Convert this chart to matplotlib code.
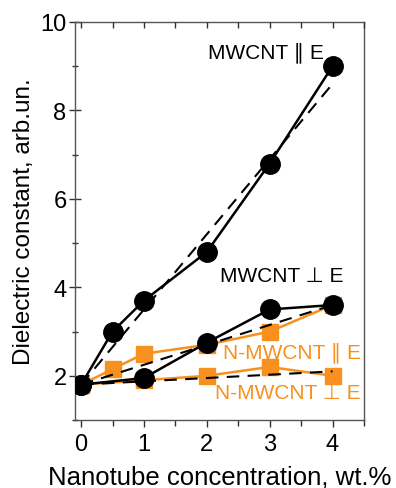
import matplotlib
matplotlib.use("Agg")
import matplotlib.pyplot as plt
from matplotlib.ticker import MultipleLocator

plt.rcParams['font.family'] = ['Liberation Sans', 'DejaVu Sans']

# Data
x_par = [0, 0.5, 1, 2, 3, 4]
mw_par = [1.8, 3.0, 3.7, 4.8, 6.8, 9.0]
mw_par_fit_x = [0, 4]
mw_par_fit = [1.8, 8.6]

x_perp = [0, 1, 2, 3, 4]
mw_perp = [1.8, 1.95, 2.75, 3.5, 3.6]
mw_perp_fit_x = [0, 4]
mw_perp_fit = [1.8, 3.6]

x_npar = [0, 0.5, 1, 2, 3, 4]
nmw_par = [1.8, 2.15, 2.5, 2.7, 3.0, 3.6]

x_nperp = [0, 1, 2, 3, 4]
nmw_perp = [1.8, 1.9, 2.0, 2.2, 2.0]
nmw_perp_fit_x = [0, 4]
nmw_perp_fit = [1.8, 2.1]

orange = '#F7901E'

fig = plt.figure(figsize=(3.96, 4.89), dpi=100)
ax = fig.add_axes([0.189, 0.139, 0.730, 0.814])

# orange series (drawn under black)
ax.plot(x_npar, nmw_par, '-', color=orange, lw=1.8, marker='s', ms=11.5, zorder=3)
ax.plot(x_nperp, nmw_perp, '-', color=orange, lw=1.8, marker='s', ms=11.5, zorder=3)

# black series
ax.plot(x_par, mw_par, '-', color='black', lw=1.8, marker='o', ms=14, zorder=4)
ax.plot(x_perp, mw_perp, '-', color='black', lw=1.8, marker='o', ms=14, zorder=4)

# dashed fits
ax.plot(mw_par_fit_x, mw_par_fit, '--', color='black', lw=1.5, dashes=(6, 4), zorder=5)
ax.plot(mw_perp_fit_x, mw_perp_fit, '--', color='black', lw=1.5, dashes=(6, 4), zorder=5)
ax.plot(nmw_perp_fit_x, nmw_perp_fit, '--', color='black', lw=1.5, dashes=(6, 4), zorder=5)

ax.set_xlim(-0.1, 4.5)
ax.set_ylim(1, 10)
ax.xaxis.set_major_locator(MultipleLocator(1))
ax.xaxis.set_minor_locator(MultipleLocator(0.5))
ax.yaxis.set_major_locator(MultipleLocator(2))
ax.yaxis.set_minor_locator(MultipleLocator(1))

for s in ax.spines.values():
    s.set_color('#555555')
    s.set_linewidth(1.0)

ax.tick_params(axis='x', which='both', direction='out', top=False, labelsize=17,
               color='#333333', width=1.0, pad=4)
ax.tick_params(axis='x', which='major', length=5)
ax.tick_params(axis='x', which='minor', length=4)
ax.tick_params(axis='y', which='both', direction='inout', right=False, labelsize=17,
               color='#333333', width=1.0, pad=2)
ax.tick_params(axis='y', which='major', length=8)
ax.tick_params(axis='y', which='minor', length=5)

# top ticks inward
axt = ax.twiny()
axt.set_xlim(ax.get_xlim())
axt.xaxis.set_major_locator(MultipleLocator(0.5))
axt.tick_params(axis='x', direction='in', length=4, labeltop=False, color='#333333', width=1.0)
for s in axt.spines.values():
    s.set_visible(False)

ax.set_xlabel('Nanotube concentration, wt.%', fontsize=18.5, labelpad=7)
ax.set_ylabel('Dielectric constant, arb.un.', fontsize=17.5, labelpad=4)

ax.text(3.86, 9.2, 'MWCNT ∥ E', fontsize=15, ha='right', va='baseline', color='black')
ax.text(4.17, 4.15, 'MWCNT ⊥ E', fontsize=15, ha='right', va='baseline', color='black')
ax.text(4.46, 2.42, 'N-MWCNT ∥ E', fontsize=15, ha='right', va='baseline', color=orange)
ax.text(4.44, 1.49, 'N-MWCNT ⊥ E', fontsize=15, ha='right', va='baseline', color=orange)

fig.savefig('out.png', dpi=100)
